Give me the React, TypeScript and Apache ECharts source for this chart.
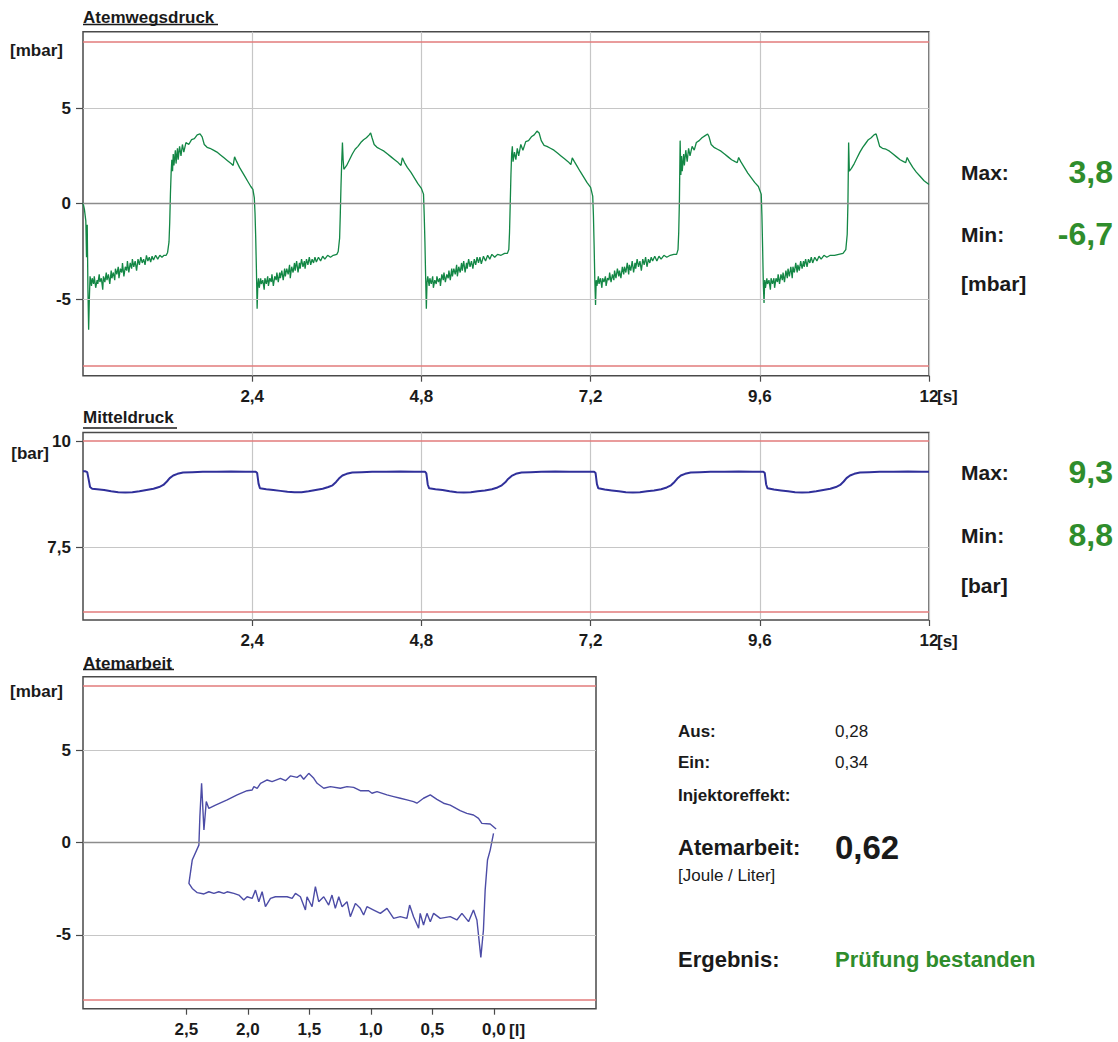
import React, { useEffect, useRef } from 'react';
import * as echarts from 'echarts';

// ---------- Data ----------
const timeTicks = [2.4, 4.8, 7.2, 9.6, 12];
const pressureTicks = [-5, 0, 5];
const pressureLimits = [-8.5, 8.5];
const meanTicks = [7.5, 10];
const meanLimits = [6, 10];
const volumeTicks = [0, 0.5, 1, 1.5, 2, 2.5];
const workTicks = [-5, 0, 5];
const workLimits = [-8.5, 8.5];

const pressureStats = [['Max:', '3,8'], ['Min:', '-6,7']];
const meanStats = [['Max:', '9,3'], ['Min:', '8,8']];
const workInfo = [['Aus:', '0,28'], ['Ein:', '0,34'], ['Injektoreffekt:', '']];
const workResult = '0,62';
const resultText = 'Prüfung bestanden';

// Atemwegsdruck [s, mbar], one array per breath
const aw1 = [[0,0.05],[0.02,-0.3],[0.04,-0.9],[0.05,-2.8],[0.06,-1.1],[0.07,-4.5],[0.08,-6.6],[0.09,-5.0],[0.10,-3.8],[0.12,-4.3],[0.13,-3.9],[0.15,-4.2],[0.16,-3.8],[0.18,-4.4],[0.2,-4.0],[0.21,-4.2],[0.23,-3.7],[0.24,-4.1],[0.26,-3.9],[0.28,-4.5],[0.29,-3.8],[0.31,-4.1],[0.33,-3.6],[0.34,-4.0],[0.36,-3.7],[0.38,-4.2],[0.4,-3.5],[0.41,-3.9],[0.43,-3.6],[0.45,-4.0],[0.46,-3.4],[0.48,-3.7],[0.5,-3.3],[0.51,-3.9],[0.53,-3.4],[0.55,-3.6],[0.56,-3.1],[0.58,-3.8],[0.6,-3.3],[0.62,-3.5],[0.63,-3.0],[0.65,-3.6],[0.67,-3.1],[0.69,-3.4],[0.7,-2.9],[0.72,-3.3],[0.74,-3.0],[0.76,-3.5],[0.78,-2.9],[0.8,-3.2],[0.82,-2.8],[0.84,-3.1],[0.86,-2.9],[0.88,-3.2],[0.9,-2.7],[0.92,-3.0],[0.94,-2.8],[0.96,-3.05],[0.98,-2.75],[1.0,-2.95],[1.03,-2.7],[1.06,-2.9],[1.09,-2.7],[1.12,-2.8],[1.15,-2.7],[1.18,-2.7],[1.2,-2.55],[1.22,-2.0],[1.23,-1.0],[1.24,0.5],[1.25,1.6],[1.26,2.3],[1.27,1.7],[1.28,2.6],[1.29,2.0],[1.31,2.8],[1.32,2.1],[1.34,2.9],[1.35,2.3],[1.37,3.0],[1.39,2.5],[1.41,3.1],[1.43,2.7],[1.46,3.2],[1.5,3.1],[1.54,3.35],[1.58,3.4],[1.62,3.6],[1.66,3.65],[1.69,3.5],[1.72,3.1],[1.76,2.95],[1.8,2.9],[1.85,2.8],[1.9,2.7],[1.95,2.55],[2.0,2.4],[2.05,2.25],[2.1,2.1],[2.13,2.0],[2.15,2.45],[2.18,2.2],[2.22,1.9],[2.26,1.65],[2.3,1.4],[2.34,1.15],[2.38,0.9],[2.41,0.75]];
const aw2 = [[2.43,0.3],[2.44,-0.5],[2.45,-1.8],[2.46,-3.5],[2.47,-5.5],[2.48,-4.2],[2.49,-3.9],[2.5,-4.4],[2.52,-3.9],[2.53,-4.2],[2.55,-4.0],[2.57,-4.5],[2.58,-3.9],[2.6,-4.2],[2.62,-3.8],[2.63,-4.3],[2.65,-3.9],[2.67,-4.1],[2.68,-3.7],[2.7,-4.3],[2.72,-3.8],[2.74,-4.0],[2.75,-3.6],[2.77,-4.1],[2.79,-3.6],[2.8,-3.9],[2.82,-3.5],[2.84,-4.0],[2.86,-3.4],[2.87,-3.8],[2.89,-3.4],[2.91,-3.7],[2.93,-3.2],[2.94,-3.9],[2.96,-3.3],[2.98,-3.6],[3.0,-3.1],[3.01,-3.5],[3.03,-3.0],[3.05,-3.6],[3.07,-3.1],[3.08,-3.4],[3.1,-2.9],[3.12,-3.3],[3.14,-3.0],[3.15,-3.4],[3.17,-2.9],[3.19,-3.2],[3.21,-2.8],[3.23,-3.2],[3.25,-2.9],[3.27,-3.1],[3.29,-2.8],[3.31,-3.05],[3.34,-2.8],[3.37,-3.0],[3.4,-2.75],[3.43,-2.9],[3.47,-2.7],[3.51,-2.8],[3.55,-2.7],[3.6,-2.65],[3.62,-2.5],[3.64,-1.8],[3.65,-0.5],[3.66,1.0],[3.67,2.2],[3.68,3.2],[3.69,2.3],[3.7,1.8],[3.74,2.0],[3.78,2.3],[3.82,2.6],[3.86,2.85],[3.9,3.0],[3.94,3.2],[3.98,3.35],[4.02,3.45],[4.06,3.6],[4.08,3.7],[4.1,3.45],[4.13,3.1],[4.17,2.95],[4.22,2.85],[4.27,2.75],[4.32,2.6],[4.37,2.45],[4.42,2.3],[4.47,2.15],[4.51,2.0],[4.53,2.4],[4.56,2.15],[4.6,1.9],[4.65,1.65],[4.7,1.35],[4.75,1.05],[4.8,0.8]];
const aw3 = [[4.83,0.5],[4.84,-0.6],[4.85,-2.0],[4.86,-3.8],[4.87,-5.5],[4.88,-4.1],[4.89,-3.8],[4.91,-4.3],[4.92,-3.9],[4.94,-4.2],[4.96,-3.8],[4.97,-4.4],[4.99,-4.0],[5.01,-4.2],[5.02,-3.8],[5.04,-4.1],[5.06,-3.9],[5.07,-4.3],[5.09,-3.7],[5.11,-4.0],[5.12,-3.6],[5.14,-4.1],[5.16,-3.7],[5.18,-3.9],[5.19,-3.5],[5.21,-4.0],[5.23,-3.4],[5.24,-3.8],[5.26,-3.4],[5.28,-3.7],[5.3,-3.2],[5.31,-3.8],[5.33,-3.3],[5.35,-3.6],[5.37,-3.1],[5.38,-3.5],[5.4,-3.0],[5.42,-3.6],[5.44,-3.1],[5.45,-3.4],[5.47,-2.9],[5.49,-3.3],[5.51,-3.0],[5.53,-3.4],[5.55,-2.9],[5.57,-3.2],[5.59,-2.8],[5.61,-3.1],[5.63,-2.8],[5.65,-3.15],[5.68,-2.75],[5.71,-3.0],[5.74,-2.7],[5.77,-2.9],[5.8,-2.65],[5.84,-2.8],[5.88,-2.65],[5.93,-2.7],[5.98,-2.6],[6.02,-2.6],[6.04,-2.4],[6.05,-1.5],[6.06,0.0],[6.07,1.5],[6.08,2.6],[6.09,3.0],[6.1,2.2],[6.12,2.7],[6.14,2.3],[6.16,2.9],[6.18,2.5],[6.21,3.1],[6.24,2.8],[6.28,3.25],[6.32,3.3],[6.36,3.5],[6.4,3.6],[6.44,3.8],[6.47,3.7],[6.5,3.3],[6.54,3.05],[6.58,3.0],[6.63,2.9],[6.68,2.8],[6.73,2.65],[6.78,2.5],[6.83,2.35],[6.88,2.2],[6.92,2.05],[6.94,2.4],[6.97,2.2],[7.01,1.95],[7.05,1.7],[7.1,1.4],[7.15,1.1],[7.2,0.85]];
const aw4 = [[7.23,0.4],[7.24,-0.6],[7.25,-2.2],[7.26,-4.0],[7.27,-5.3],[7.28,-4.0],[7.29,-4.3],[7.31,-3.8],[7.32,-4.2],[7.34,-3.9],[7.36,-4.4],[7.37,-3.9],[7.39,-4.1],[7.41,-3.8],[7.42,-4.3],[7.44,-3.9],[7.46,-4.0],[7.47,-3.6],[7.49,-4.1],[7.51,-3.7],[7.53,-4.0],[7.54,-3.5],[7.56,-3.9],[7.58,-3.4],[7.6,-3.8],[7.61,-3.5],[7.63,-3.9],[7.65,-3.3],[7.67,-3.7],[7.68,-3.3],[7.7,-3.6],[7.72,-3.1],[7.74,-3.7],[7.75,-3.2],[7.77,-3.5],[7.79,-3.0],[7.81,-3.6],[7.83,-3.1],[7.84,-3.4],[7.86,-2.9],[7.88,-3.3],[7.9,-3.0],[7.92,-3.5],[7.94,-2.9],[7.96,-3.2],[7.98,-2.8],[8.0,-3.3],[8.02,-2.9],[8.04,-3.1],[8.06,-2.8],[8.08,-3.0],[8.11,-2.75],[8.14,-3.0],[8.17,-2.75],[8.2,-2.9],[8.24,-2.7],[8.28,-2.8],[8.33,-2.7],[8.38,-2.65],[8.42,-2.65],[8.44,-2.4],[8.45,-1.5],[8.46,0.2],[8.47,3.3],[8.48,1.5],[8.49,2.5],[8.5,1.7],[8.52,2.6],[8.53,2.0],[8.55,2.8],[8.57,2.2],[8.59,2.9],[8.61,2.5],[8.64,3.0],[8.67,2.8],[8.7,3.2],[8.74,3.3],[8.78,3.45],[8.82,3.55],[8.86,3.65],[8.88,3.5],[8.91,3.1],[8.95,2.95],[9.0,2.85],[9.05,2.75],[9.1,2.6],[9.15,2.45],[9.2,2.3],[9.25,2.2],[9.28,2.15],[9.3,2.42],[9.33,2.2],[9.38,1.9],[9.43,1.6],[9.48,1.35],[9.53,1.1],[9.58,0.9]];
const aw5 = [[9.62,0.5],[9.63,-0.6],[9.64,-2.3],[9.65,-4.2],[9.66,-5.2],[9.67,-4.0],[9.68,-4.4],[9.7,-3.9],[9.71,-4.2],[9.73,-4.0],[9.75,-4.5],[9.76,-3.9],[9.78,-4.2],[9.8,-3.9],[9.81,-4.4],[9.83,-3.9],[9.85,-4.1],[9.86,-3.7],[9.88,-4.2],[9.9,-3.7],[9.92,-4.0],[9.93,-3.6],[9.95,-4.1],[9.97,-3.5],[9.99,-3.9],[10.0,-3.4],[10.02,-3.8],[10.04,-3.3],[10.06,-3.9],[10.07,-3.3],[10.09,-3.6],[10.11,-3.1],[10.13,-3.6],[10.14,-3.2],[10.16,-3.5],[10.18,-3.0],[10.2,-3.4],[10.22,-3.0],[10.23,-3.3],[10.25,-2.9],[10.27,-3.3],[10.29,-2.9],[10.31,-3.1],[10.33,-2.8],[10.35,-3.1],[10.38,-2.8],[10.41,-3.0],[10.44,-2.75],[10.47,-2.9],[10.51,-2.7],[10.55,-2.8],[10.6,-2.7],[10.66,-2.7],[10.72,-2.65],[10.78,-2.6],[10.82,-2.4],[10.84,-1.6],[10.85,0.0],[10.86,3.2],[10.87,1.7],[10.9,1.85],[10.94,2.1],[10.98,2.4],[11.02,2.7],[11.06,2.95],[11.1,3.15],[11.14,3.35],[11.18,3.45],[11.22,3.6],[11.25,3.65],[11.27,3.4],[11.3,3.0],[11.34,2.9],[11.39,2.85],[11.44,2.75],[11.49,2.6],[11.54,2.45],[11.59,2.3],[11.64,2.2],[11.67,2.15],[11.69,2.42],[11.72,2.2],[11.77,1.9],[11.82,1.65],[11.87,1.45],[11.93,1.2],[12.0,1.0]];

// Mitteldruck [s, bar]
const md1 = [[0,9.29],[0.03,9.29],[0.06,9.27],[0.08,9.1],[0.1,8.92],[0.13,8.88],[0.2,8.87],[0.3,8.85],[0.4,8.82],[0.5,8.8],[0.6,8.79],[0.7,8.8],[0.8,8.82],[0.9,8.85],[1.0,8.88],[1.08,8.92],[1.14,8.97],[1.19,9.05],[1.23,9.13],[1.28,9.19],[1.34,9.23],[1.42,9.26],[1.55,9.27],[1.7,9.28],[1.9,9.28],[2.1,9.285],[2.3,9.28],[2.45,9.28]];
const md2 = [[2.47,9.25],[2.49,9.0],[2.51,8.89],[2.6,8.87],[2.7,8.85],[2.8,8.83],[2.9,8.81],[3.0,8.8],[3.1,8.8],[3.2,8.82],[3.3,8.85],[3.4,8.88],[3.48,8.92],[3.54,8.96],[3.59,9.04],[3.63,9.12],[3.68,9.19],[3.74,9.23],[3.82,9.26],[3.95,9.27],[4.1,9.28],[4.3,9.28],[4.5,9.285],[4.7,9.28],[4.85,9.28]];
const md3 = [[4.87,9.24],[4.89,8.98],[4.91,8.89],[5.0,8.87],[5.1,8.85],[5.2,8.82],[5.3,8.8],[5.4,8.79],[5.5,8.8],[5.6,8.82],[5.7,8.84],[5.8,8.87],[5.88,8.91],[5.94,8.96],[5.99,9.03],[6.03,9.11],[6.08,9.18],[6.14,9.23],[6.22,9.26],[6.35,9.27],[6.5,9.28],[6.7,9.285],[6.9,9.28],[7.1,9.28],[7.25,9.28]];
const md4 = [[7.27,9.25],[7.29,8.99],[7.31,8.89],[7.4,8.86],[7.5,8.84],[7.6,8.82],[7.7,8.8],[7.8,8.79],[7.9,8.8],[8.0,8.82],[8.1,8.84],[8.2,8.87],[8.28,8.91],[8.34,8.96],[8.39,9.04],[8.43,9.12],[8.48,9.19],[8.54,9.23],[8.62,9.26],[8.75,9.27],[8.9,9.28],[9.1,9.28],[9.3,9.285],[9.5,9.28],[9.65,9.28]];
const md5 = [[9.67,9.25],[9.69,8.98],[9.71,8.89],[9.8,8.86],[9.9,8.84],[10.0,8.82],[10.1,8.8],[10.2,8.79],[10.3,8.8],[10.4,8.82],[10.5,8.85],[10.6,8.88],[10.68,8.92],[10.74,8.97],[10.79,9.05],[10.83,9.13],[10.88,9.19],[10.94,9.23],[11.02,9.26],[11.15,9.27],[11.3,9.28],[11.5,9.28],[11.7,9.285],[11.9,9.28],[12.0,9.28]];

// Atemarbeit loop [l, mbar] in drawing order
const loopIn = [[0.003,0.51],[0.03,-0.4],[0.052,-0.94],[0.071,-2.57],[0.085,-4.73],[0.106,-6.22],[0.138,-4.19],[0.166,-3.65],[0.206,-4.28],[0.26,-3.83],[0.301,-4.19],[0.355,-4.01],[0.436,-4.10],[0.49,-3.83],[0.517,-4.28],[0.544,-3.83],[0.572,-4.46],[0.599,-3.83],[0.612,-4.64],[0.653,-4.01],[0.685,-3.38],[0.707,-4.10],[0.761,-4.01],[0.815,-4.10],[0.869,-3.56],[0.923,-3.83],[0.977,-3.65],[1.032,-3.47],[1.059,-3.92],[1.086,-3.56],[1.126,-3.29],[1.167,-4.01],[1.194,-3.20],[1.234,-3.47],[1.261,-2.93],[1.289,-3.56],[1.316,-2.84],[1.343,-3.38],[1.383,-2.93],[1.424,-3.20],[1.451,-2.38],[1.478,-3.47],[1.519,-2.93],[1.532,-3.65],[1.573,-2.93],[1.613,-2.75],[1.64,-3.02],[1.681,-2.93],[1.735,-2.93],[1.776,-2.93],[1.816,-3.02],[1.857,-3.47],[1.884,-2.66],[1.911,-3.20],[1.938,-2.57],[1.965,-3.02],[2.006,-2.93],[2.033,-3.11],[2.073,-2.84],[2.114,-2.75],[2.168,-2.66],[2.195,-2.75],[2.236,-2.66],[2.276,-2.75],[2.317,-2.66],[2.357,-2.78],[2.411,-2.71],[2.452,-2.48],[2.479,-2.20]];
const loopOut = [[2.452,-0.94],[2.398,-0.13],[2.39,1.41],[2.376,3.22],[2.357,0.69],[2.338,2.23],[2.317,1.86],[2.263,2.04],[2.168,2.32],[2.087,2.59],[2.006,2.82],[1.965,2.86],[1.951,3.04],[1.924,2.95],[1.897,3.22],[1.843,3.40],[1.803,3.31],[1.735,3.49],[1.694,3.36],[1.654,3.62],[1.6,3.54],[1.573,3.67],[1.546,3.44],[1.505,3.76],[1.464,3.49],[1.437,3.22],[1.383,2.95],[1.329,3.04],[1.248,2.95],[1.194,3.04],[1.14,3.0],[1.086,2.82],[1.018,2.82],[0.991,2.68],[0.95,2.77],[0.869,2.59],[0.815,2.50],[0.761,2.41],[0.707,2.32],[0.653,2.23],[0.626,2.14],[0.572,2.41],[0.517,2.59],[0.463,2.35],[0.409,2.14],[0.355,2.04],[0.274,1.74],[0.22,1.59],[0.166,1.50],[0.125,1.32],[0.098,1.05],[0.03,1.01],[-0.018,0.74]];

// ---------- Styles ----------
const FONT = '"Liberation Sans", Arial, Helvetica, sans-serif';
const GREEN_LINE = '#138745';
const GREEN_TEXT = '#2f8d2c';
const BLUE_MEAN = '#30309a';
const BLUE_LOOP = '#4c4ca6';
const RED = '#e27b7b';
const GRID = '#c6c6c6';
const ZERO = '#8c8c8c';
const BORDER = '#4a4a4a';
const TEXT = '#1a1a1a';

const commaFmt = (v: number) => String(Math.round(v * 10) / 10).replace('.', ',');

function text(t: string, x: number, y: number, size: number, opts: any = {}) {
  const weight = opts.weight || 'bold';
  const align = opts.align || 'left';
  return {
    type: 'text',
    x,
    y,
    silent: true,
    style: {
      text: t,
      font: `${weight} ${size}px ${FONT}`,
      fill: opts.fill || TEXT,
      align,
      verticalAlign: 'middle',
      textAlign: align,
      textVerticalAlign: 'middle',
    },
  };
}

function underline(x1: number, x2: number, y: number) {
  return { type: 'line', silent: true, shape: { x1, y1: y, x2, y2: y }, style: { stroke: TEXT, lineWidth: 1.5 } };
}

function refLines(ticks: number[], limits: number[], showZero: boolean) {
  const d: any[] = [];
  ticks.forEach((v) => {
    d.push({ yAxis: v, lineStyle: { color: v === 0 && showZero ? ZERO : GRID, width: v === 0 && showZero ? 1.4 : 1.2, type: 'solid' } });
  });
  limits.forEach((v) => {
    d.push({ yAxis: v, lineStyle: { color: RED, width: 1.5, type: 'solid' } });
  });
  return d;
}

function helper(idx: number, data: any[]) {
  return {
    type: 'line',
    xAxisIndex: idx,
    yAxisIndex: idx,
    data: [],
    z: 1,
    silent: true,
    markLine: {
      silent: true,
      symbol: 'none',
      label: { show: false },
      emphasis: { disabled: true },
      animation: false,
      lineStyle: { type: 'solid' },
      data,
    },
  };
}

function lineSeries(idx: number, data: any[], color: string, width: number) {
  return {
    type: 'line',
    xAxisIndex: idx,
    yAxisIndex: idx,
    data,
    z: 3,
    silent: true,
    showSymbol: false,
    symbol: 'none',
    lineStyle: { color, width },
    emphasis: { disabled: true },
  };
}

const axisLabelBase = { fontFamily: FONT, fontWeight: 'bold', fontSize: 17, color: TEXT };

function buildOption(): any {
  const timeAxis = (idx: number) => ({
    gridIndex: idx,
    type: 'value',
    min: 0,
    max: 12,
    interval: 2.4,
    axisLine: { show: false, onZero: false },
    axisTick: { show: true, customValues: timeTicks, length: 6, lineStyle: { color: BORDER, width: 1.2 } },
    axisLabel: { ...axisLabelBase, customValues: timeTicks, margin: 12, formatter: (v: number) => commaFmt(v) },
    splitLine: { show: true, lineStyle: { color: GRID, width: 1.2 } },
  });
  const yAxis = (idx: number, min: number, max: number, ticks: number[]) => ({
    gridIndex: idx,
    type: 'value',
    min,
    max,
    axisLine: { show: false, onZero: false },
    axisTick: { show: true, customValues: ticks, length: 7, lineStyle: { color: BORDER, width: 1.2 } },
    axisLabel: { ...axisLabelBase, customValues: ticks, margin: 12, formatter: (v: number) => commaFmt(v) },
    splitLine: { show: false },
  });

  const gridBase = { show: true, borderColor: BORDER, borderWidth: 1.5, backgroundColor: 'transparent', containLabel: false };

  const graphics: any[] = [
    text('Atemwegsdruck', 83, 17, 17),
    underline(83, 218, 24.5),
    text('Mitteldruck', 83, 417, 17),
    underline(83, 177, 428),
    text('Atemarbeit', 83, 663, 17),
    underline(83, 174, 669.5),
    text('[mbar]', 63, 50, 17, { align: 'right' }),
    text('[bar]', 49, 453, 17, { align: 'right' }),
    text('[mbar]', 63, 691, 17, { align: 'right' }),
    text('[s]', 937, 396, 17),
    text('[s]', 937, 641, 17),
    text('[l]', 509, 1030, 17),
  ];
  const statY1 = [172, 234];
  pressureStats.forEach((s, i) => {
    graphics.push(text(s[0], 961, statY1[i], 21));
    graphics.push(text(s[1], 1113, statY1[i], 32, { align: 'right', fill: GREEN_TEXT }));
  });
  graphics.push(text('[mbar]', 961, 283, 21));
  const statY2 = [472, 535];
  meanStats.forEach((s, i) => {
    graphics.push(text(s[0], 961, statY2[i], 21));
    graphics.push(text(s[1], 1113, statY2[i], 32, { align: 'right', fill: GREEN_TEXT }));
  });
  graphics.push(text('[bar]', 961, 585, 21));
  const infoY = [731.5, 762.5, 795];
  workInfo.forEach((s, i) => {
    graphics.push(text(s[0], 678, infoY[i], 17));
    if (s[1]) graphics.push(text(s[1], 835, infoY[i], 17, { weight: 'normal' }));
  });
  graphics.push(text('Atemarbeit:', 678, 847, 22));
  graphics.push(text(workResult, 835, 847, 33));
  graphics.push(text('[Joule / Liter]', 678, 875, 17, { weight: 'normal' }));
  graphics.push(text('Ergebnis:', 678, 959, 22));
  graphics.push(text(resultText, 835, 959, 22, { fill: GREEN_TEXT }));

  return {
    animation: false,
    backgroundColor: '#ffffff',
    grid: [
      { ...gridBase, left: 83, top: 31.7, width: 846, height: 344 },
      { ...gridBase, left: 83, top: 432.5, width: 846, height: 187.5 },
      { ...gridBase, left: 83, top: 676.7, width: 513, height: 332 },
    ],
    xAxis: [
      timeAxis(0),
      timeAxis(1),
      {
        gridIndex: 2,
        type: 'value',
        inverse: true,
        min: -0.83,
        max: 3.34,
        axisLine: { show: false, onZero: false },
        axisTick: { show: true, customValues: volumeTicks, length: 6, lineStyle: { color: BORDER, width: 1.2 } },
        axisLabel: { ...axisLabelBase, customValues: volumeTicks, margin: 12, formatter: (v: number) => v.toFixed(1).replace('.', ',') },
        splitLine: { show: false },
      },
    ],
    yAxis: [
      yAxis(0, -9, 9, pressureTicks),
      yAxis(1, 5.8, 10.2, meanTicks),
      yAxis(2, -9, 9, workTicks),
    ],
    series: [
      helper(0, refLines(pressureTicks, pressureLimits, true)),
      lineSeries(0, [...aw1, ...aw2, ...aw3, ...aw4, ...aw5], GREEN_LINE, 1.3),
      helper(1, refLines([7.5], meanLimits, false)),
      lineSeries(1, [...md1, ...md2, ...md3, ...md4, ...md5], BLUE_MEAN, 2),
      helper(2, refLines(workTicks, workLimits, true)),
      lineSeries(2, [...loopIn, ...loopOut], BLUE_LOOP, 1.4),
    ],
    graphic: { elements: graphics },
  };
}

export default function App() {
  const ref = useRef<HTMLDivElement>(null);
  useEffect(() => {
    if (!ref.current) return;
    const chart = echarts.init(ref.current, null, { renderer: 'svg' });
    chart.setOption(buildOption());
    return () => chart.dispose();
  }, []);
  return (
    <div
      ref={ref}
      style={{ position: 'absolute', left: 0, top: 0, width: 1118, height: 1042, background: '#fff' }}
    />
  );
}
